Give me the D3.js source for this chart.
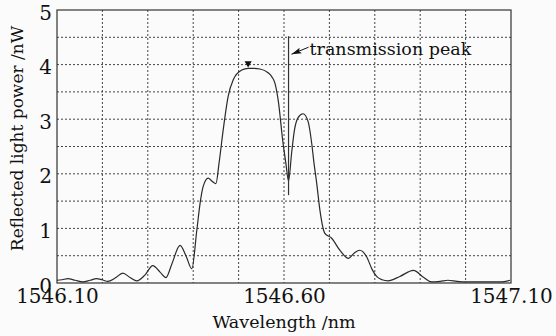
<!DOCTYPE html>
<html lang="en">
<head>
<meta charset="UTF-8">
<script src="https://d3js.org/d3.v7.min.js"></script>
<title>Reflected light power</title>
<style>
  body { margin: 0; background: #fbfbfb; }
  .grid line { stroke: #444; stroke-dasharray: 2,2; stroke-width: 1; }
  .axis path, .axis line { stroke: #222; }
  text { font-family: "DejaVu Serif", serif; fill: #111; }
</style>
</head>
<body>
<div id="chart"></div>
<script>
// wavelength (nm) and reflected power (nW)
var wavelength = [1546.100, 1546.111, 1546.124, 1546.140, 1546.157, 1546.173, 1546.187, 1546.199,
  1546.212, 1546.228, 1546.245, 1546.261, 1546.276, 1546.294, 1546.311, 1546.327, 1546.340,
  1546.353, 1546.371, 1546.384, 1546.397, 1546.408, 1546.415, 1546.422, 1546.433, 1546.441,
  1546.450, 1546.457, 1546.466, 1546.477, 1546.488, 1546.507, 1546.521, 1546.534, 1546.547,
  1546.565, 1546.573, 1546.580, 1546.588, 1546.597, 1546.604, 1546.610, 1546.617, 1546.623,
  1546.631, 1546.642, 1546.653, 1546.661, 1546.666, 1546.672, 1546.679, 1546.690, 1546.705,
  1546.723, 1546.742, 1546.755, 1546.767, 1546.782, 1546.794, 1546.804, 1546.816, 1546.829,
  1546.855, 1546.885, 1546.908, 1546.925, 1546.944, 1546.961, 1546.981, 1547.002, 1547.046,
  1547.076, 1547.098];
var power = [0.05, 0.06, 0.08, 0.05, 0.02, 0.05, 0.08, 0.06,
  0.03, 0.09, 0.18, 0.10, 0.04, 0.15, 0.32, 0.20, 0.10,
  0.35, 0.69, 0.50, 0.26, 0.97, 1.45, 1.77, 1.92, 1.87,
  1.82, 2.20, 2.80, 3.42, 3.72, 3.90, 3.93, 3.93, 3.92,
  3.85, 3.78, 3.66, 3.30, 2.62, 2.20, 1.87, 2.40, 2.80,
  3.03, 3.10, 2.96, 2.56, 2.20, 1.83, 1.34, 0.91, 0.82,
  0.60, 0.45, 0.55, 0.60, 0.48, 0.25, 0.12, 0.06, 0.04,
  0.12, 0.23, 0.10, 0.02, 0.03, 0.05, 0.03, 0.02, 0.02,
  0.02, 0.05];

var xTickLabels = ["1546.10", "1546.60", "1547.10"];
var yTickLabels = ["0", "1", "2", "3", "4", "5"];

var peakWavelength = 1546.521, peakPower = 3.93;
var markWavelength = 1546.61, markTop = 4.52, markBottom = 1.61;
var markLabel = "transmission peak";

var margin = {top: 10, right: 45, bottom: 53, left: 57},
    width = 556 - margin.left - margin.right,
    height = 336 - margin.top - margin.bottom;

var x = d3.scaleLinear().domain([1546.10, 1547.10]).range([0, width]);
var y = d3.scaleLinear().domain([0, 5]).range([height, 0]);

var svg = d3.select("#chart").append("svg")
    .attr("width", 556)
    .attr("height", 336)
  .append("g")
    .attr("transform", "translate(" + margin.left + "," + margin.top + ")");

// dotted grid
var grid = svg.append("g").attr("class", "grid");
grid.selectAll(".v")
    .data(d3.range(1, 10).map(function(i) { return 1546.10 + i * 0.1; }))
  .enter().append("line")
    .attr("x1", function(d) { return x(d); })
    .attr("x2", function(d) { return x(d); })
    .attr("y1", 0).attr("y2", height);
grid.selectAll(".h")
    .data(d3.range(1, 10).map(function(i) { return i * 0.5; }))
  .enter().append("line")
    .attr("y1", function(d) { return y(d); })
    .attr("y2", function(d) { return y(d); })
    .attr("x1", 0).attr("x2", width);

// frame
svg.append("rect")
    .attr("width", width).attr("height", height)
    .attr("fill", "none").attr("stroke", "#333").attr("stroke-width", 1.2);

// axes
svg.append("g")
    .attr("class", "x axis")
    .attr("transform", "translate(0," + height + ")")
    .call(d3.axisBottom(x).tickValues(xTickLabels.map(Number)).tickSize(0).tickPadding(6)
      .tickFormat(function(d, i) { return xTickLabels[i]; }))
    .call(function(g) { g.select(".domain").remove(); })
    .selectAll("text")
      .attr("font-size", "20px")
      .attr("font-family", "Liberation Serif, serif")
      .attr("fill", "#111");

svg.append("g")
    .attr("class", "y axis")
    .call(d3.axisLeft(y).tickValues(yTickLabels.map(Number)).tickSize(0).tickPadding(5)
      .tickFormat(function(d, i) { return yTickLabels[i]; }))
    .call(function(g) { g.select(".domain").remove(); })
    .selectAll("text")
      .attr("dy", "0.45em")
      .attr("font-size", "20px")
      .attr("font-family", "Liberation Serif, serif")
      .attr("fill", "#111");

// labels
svg.append("text")
    .attr("x", width / 2)
    .attr("y", height + 45)
    .attr("text-anchor", "middle")
    .attr("font-size", "17.5px")
    .text("Wavelength /nm");

svg.append("text")
    .attr("transform", "translate(-34," + (height / 2 - 8) + ") rotate(-90)")
    .attr("text-anchor", "middle")
    .attr("font-size", "17px")
    .text("Reflected light power /nW");

// spectrum
var line = d3.line()
    .x(function(d) { return x(d[0]); })
    .y(function(d) { return y(d[1]); })
    .curve(d3.curveMonotoneX);

svg.append("path")
    .datum(d3.zip(wavelength, power))
    .attr("fill", "none")
    .attr("stroke", "#2a2a2a")
    .attr("stroke-width", 1.2)
    .attr("d", line);

// peak marker
svg.append("path")
    .attr("d", d3.symbol().type(d3.symbolTriangle).size(22))
    .attr("transform", "translate(" + x(peakWavelength) + "," + (y(peakPower) - 5) + ") rotate(180)")
    .attr("fill", "#111");

// transmission peak annotation
svg.append("line")
    .attr("x1", x(markWavelength)).attr("x2", x(markWavelength))
    .attr("y1", y(markTop)).attr("y2", y(markBottom))
    .attr("stroke", "#333").attr("stroke-width", 1.2);

var ax0 = x(markWavelength) + 3, ay0 = y(markTop) + 18;
var ax1 = ax0 + 17, ay1 = ay0 - 7;
svg.append("line")
    .attr("x1", ax0).attr("y1", ay0)
    .attr("x2", ax1).attr("y2", ay1)
    .attr("stroke", "#111").attr("stroke-width", 1);
var ang = Math.atan2(ay0 - ay1, ax0 - ax1);
svg.append("path")
    .attr("d", "M0,0L-10,-3L-8,0L-10,3Z")
    .attr("transform", "translate(" + ax0 + "," + ay0 + ") rotate(" + (ang * 180 / Math.PI) + ")")
    .attr("fill", "#111");

svg.append("text")
    .attr("x", ax1 + 1)
    .attr("y", ay1 + 8)
    .attr("font-size", "17.5px")
    .text(markLabel);
</script>
</body>
</html>
